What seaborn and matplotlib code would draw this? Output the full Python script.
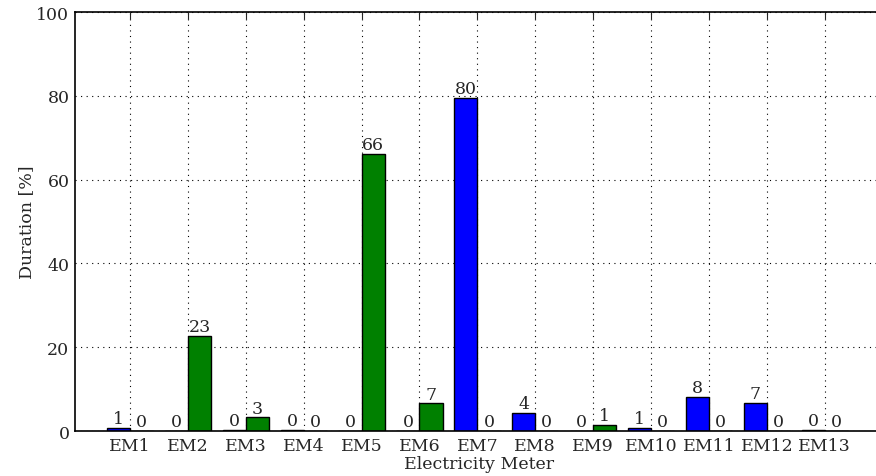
import numpy as np
import pandas as pd
import matplotlib
matplotlib.use("Agg")
import matplotlib.pyplot as plt
import seaborn as sns

# data
meters = ["EM%d" % i for i in range(1, 14)]
first_vals = [0.7, 0.0, 0.2, 0.3, 0.0, 0.0, 79.6, 4.4, 0.0, 0.7, 8.1, 6.7, 0.2]
second_vals = [0.0, 22.7, 3.3, 0.0, 66.1, 6.6, 0.0, 0.0, 1.4, 0.0, 0.0, 0.0, 0.0]
series_names = ["first", "second"]
colors = ["#0000ff", "#008000"]
y_ticks = [0, 20, 40, 60, 80, 100]

df = pd.DataFrame({
    "meter": meters * 2,
    "series": [series_names[0]] * len(meters) + [series_names[1]] * len(meters),
    "value": first_vals + second_vals,
})

sns.set_style("white")
plt.rcParams["font.family"] = ["DejaVu Serif"]
FS = 12.5

fig = plt.figure(figsize=(8.76, 4.77), dpi=100)
ax = fig.add_axes([0.0856, 0.0943, 0.922, 0.878])

sns.barplot(data=df, x="meter", y="value", hue="series", order=meters,
            hue_order=series_names, palette=colors, width=0.8,
            edgecolor="black", linewidth=1.0, saturation=1, legend=False, ax=ax)

# value labels on top of each bar
for cont in ax.containers:
    for bar in cont:
        h = bar.get_height()
        ax.annotate("%.0f" % h, (bar.get_x() + bar.get_width() / 2, h),
                    xytext=(0, 0.5), textcoords="offset points",
                    ha="center", va="bottom", fontsize=FS)

ax.set_xlim(-0.95, 13.0)
ax.set_ylim(0, 100)
ax.set_yticks(y_ticks)
ax.set_xlabel("Electricity Meter", fontsize=FS, labelpad=1)
ax.set_ylabel("Duration [%]", fontsize=FS, labelpad=1)
ax.grid(True, color="black", linestyle=(0, (1, 4)), linewidth=0.8)
ax.set_axisbelow(True)
ax.tick_params(direction="in", length=5, top=True, right=True, labelsize=FS, pad=4)
for s in ax.spines.values():
    s.set_color("black")
    s.set_linewidth(1.2)

fig.savefig("out.png", dpi=100)
